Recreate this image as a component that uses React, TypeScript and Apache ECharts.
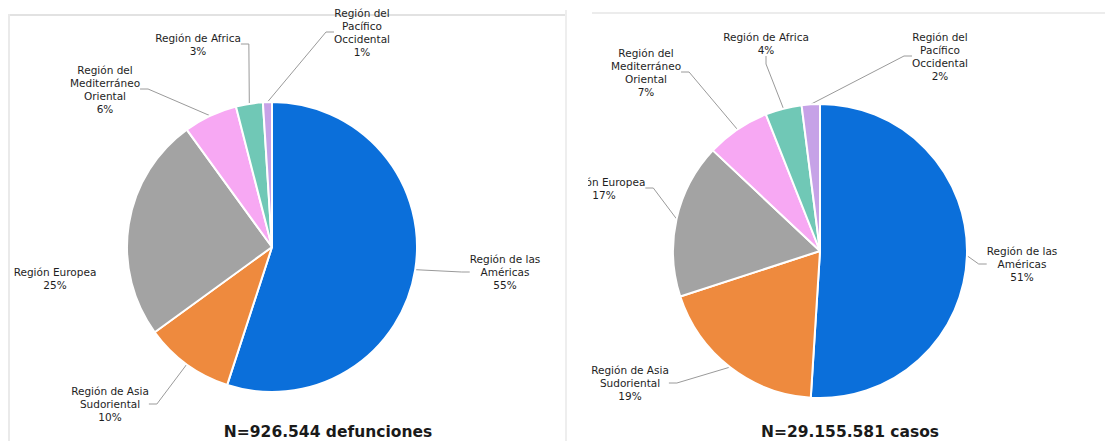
import React, { useEffect, useRef } from "react";
import * as echarts from "echarts";

// ---- data ----
const regions = [
  "Región de las\nAméricas",
  "Región de Asia\nSudoriental",
  "Región Europea",
  "Región del\nMediterráneo\nOriental",
  "Región de Africa",
  "Región del\nPacífico\nOccidental",
];
const deathShares = [55, 10, 25, 6, 3, 1];
const caseShares = [51, 19, 17, 7, 4, 2];
const deathsTitle = "N=926.544 defunciones";
const casesTitle = "N=29.155.581 casos";

// ---- styles / layout ----
const sliceColors = ["#0B6FDA", "#EE8A3E", "#A3A3A3", "#F7A8F3", "#70C8B6", "#C6A2E7"];
const deathLabelPos = [
  [505, 272],
  [110, 404],
  [55, 278],
  [105, 89],
  [198, 44],
  [362, 32],
];
const deathLabelLine = [true, true, false, true, true, true];
const caseLabelPos = [
  [434, 264],
  [42, 383],
  [16, 188],
  [58, 72],
  [178, 43],
  [352, 56],
];
const caseLabelLine = [true, true, true, true, true, true];

const FONT = "DejaVu Sans, Verdana, sans-serif";

function buildOption(
  values: number[],
  labelPos: number[][],
  showLines: boolean[],
  center: number[],
  radius: number,
  title: string,
  titleX: number,
  titleY: number
) {
  return {
    animation: false,
    series: [
      {
        type: "pie",
        center,
        radius,
        startAngle: 90,
        clockwise: true,
        avoidLabelOverlap: false,
        itemStyle: { borderColor: "#ffffff", borderWidth: 2 },
        label: {
          show: true,
          position: "outside",
          color: "#1e1e1e",
          fontFamily: FONT,
          fontSize: 10.5,
          lineHeight: 13,
          align: "center",
          formatter: (p: any) => `${p.name}\n${p.value}%`,
        },
        labelLine: {
          show: true,
          length: 8,
          length2: 8,
          lineStyle: { color: "#9a9a9a", width: 1 },
        },
        labelLayout: (params: any) => {
          const pos = labelPos[params.dataIndex];
          return { x: pos[0], y: pos[1], align: "center", verticalAlign: "middle" };
        },
        data: values.map((v, i) => ({
          name: regions[i],
          value: v,
          itemStyle: { color: sliceColors[i] },
          labelLine: { show: showLines[i] },
        })),
      },
    ],
    graphic: [
      {
        type: "text",
        x: titleX,
        y: titleY,
        style: {
          text: title,
          fontFamily: FONT,
          fontSize: 15.5,
          fontWeight: "bold",
          fill: "#1a1a1a",
          textAlign: "center",
          textVerticalAlign: "middle",
        },
      },
    ],
  };
}

export default function App() {
  const leftRef = useRef<HTMLDivElement>(null);
  const rightRef = useRef<HTMLDivElement>(null);

  useEffect(() => {
    const left = echarts.init(leftRef.current!, undefined, { renderer: "svg" });
    const right = echarts.init(rightRef.current!, undefined, { renderer: "svg" });
    left.setOption(
      buildOption(deathShares, deathLabelPos, deathLabelLine, [272, 247], 145, deathsTitle, 328, 432)
    );
    right.setOption(
      buildOption(caseShares, caseLabelPos, caseLabelLine, [232, 251], 147, casesTitle, 262, 432)
    );
    return () => {
      left.dispose();
      right.dispose();
    };
  }, []);

  return (
    <div
      style={{
        position: "fixed",
        left: 0,
        top: 0,
        width: 1105,
        height: 441,
        background: "#ffffff",
        overflow: "hidden",
      }}
    >
      {/* left panel borders */}
      <div style={{ position: "absolute", left: 8, top: 14, width: 558, height: 2, background: "#e2e2e2" }} />
      <div style={{ position: "absolute", left: 8, top: 14, width: 2, height: 427, background: "#eaeaea" }} />
      <div style={{ position: "absolute", left: 565, top: 10, width: 2, height: 431, background: "#eeeeee" }} />
      {/* right panel border */}
      <div style={{ position: "absolute", left: 592, top: 12, width: 513, height: 2, background: "#ececec" }} />
      <div ref={leftRef} style={{ position: "absolute", left: 0, top: 0, width: 565, height: 441 }} />
      <div ref={rightRef} style={{ position: "absolute", left: 588, top: 0, width: 517, height: 441 }} />
    </div>
  );
}
